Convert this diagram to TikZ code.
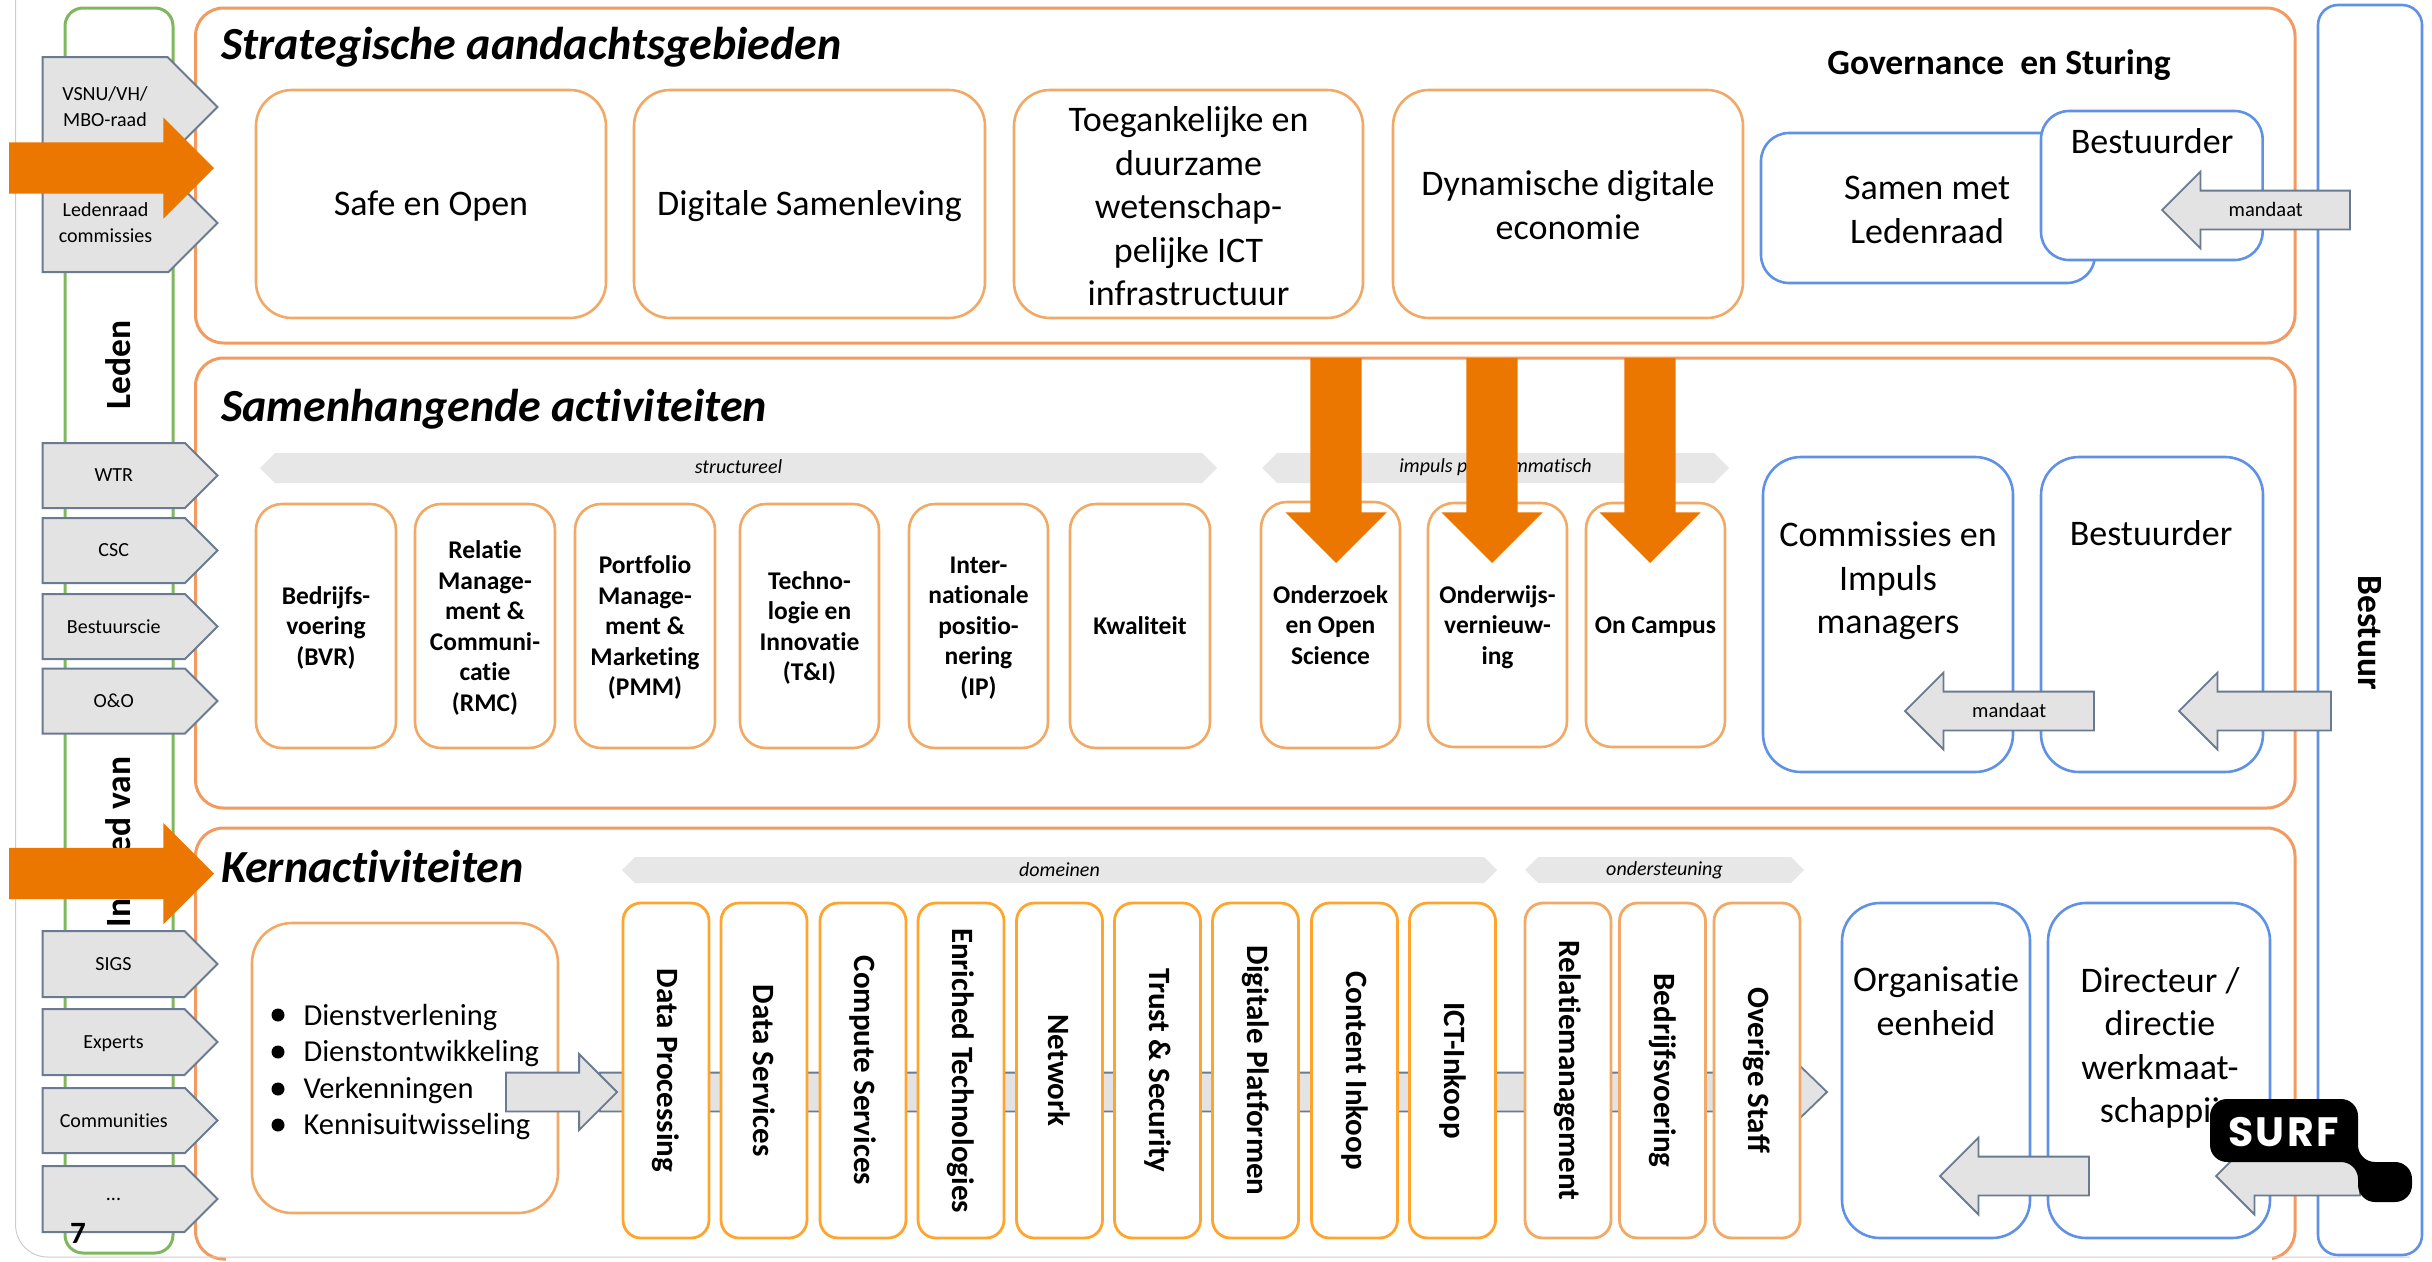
\documentclass[tikz,border=0pt]{standalone}
\usepackage{fontspec}
\setmainfont{Carlito}[Ligatures=NoCommon]
\newfontfamily\surffont{Poppins}[LetterSpace=6]
\usetikzlibrary{shapes.arrows,shapes.symbols}
\definecolor{panelorange}{HTML}{F39A60}
\definecolor{softorange}{HTML}{F2A966}
\definecolor{strongorange}{HTML}{FFA52E}
\definecolor{softblue}{HTML}{5F92E6}
\definecolor{softgreen}{HTML}{7FB75E}
\definecolor{arrowgray}{HTML}{E3E3E3}
\definecolor{bandgray}{HTML}{E7E7E7}
\definecolor{edgegray}{HTML}{6A7A90}
\definecolor{bigorange}{HTML}{EB7600}
\begin{document}
\begin{tikzpicture}[
				x=1pt,y=-1pt,
				every node/.style={inner sep=0pt, outer sep=0pt, align=center, text=black},
				panelbox/.style={draw=panelorange, line width=3pt, rounded corners=28pt, rectangle, anchor=north west},
				softbox/.style={draw=softorange, fill=white, line width=2.6pt, rounded corners=#1, rectangle, anchor=north west},
				softbox/.default=26pt,
				bluebox/.style={draw=softblue, fill=white, line width=2.6pt, rounded corners=#1, rectangle, anchor=north west},
				bluebox/.default=38pt,
				bandbox/.style={fill=bandgray, shape=signal, signal to=east and west, signal pointer angle=90, minimum height=#1},
				tagbox/.style={draw=edgegray, fill=arrowgray, line width=2pt, shape=signal, signal to=east, signal pointer angle=90, anchor=west, minimum width=175pt, text depth=0pt, font=\fontsize{20}{26}\selectfont},
				grayarrow/.style={draw=edgegray, fill=arrowgray, line width=1.8pt, shape=single arrow, inner sep=18.5pt, single arrow head extend=19pt, minimum width=75pt, anchor=tip},
				textarrow/.style={grayarrow, inner ysep=12.5pt, inner xsep=0pt, text height=12pt, text depth=0pt, font=\fontsize{20.5}{25}\selectfont},
				bigarrow/.style={fill=bigorange, shape=single arrow, inner sep=25.5pt, single arrow head extend=25pt, minimum width=100pt, minimum height=205pt, anchor=tip},
				titletext/.style={font=\fontsize{46}{54}\selectfont\bfseries\itshape, anchor=west},
				largetext/.style={font=\fontsize{36}{43.5}\selectfont},
				boldlabel/.style={text depth=0pt, font=\fontsize{25.5}{30.5}\selectfont\bfseries},
				bandtext/.style={font=\fontsize{20}{24}\selectfont\itshape},
				sidetext/.style={font=\fontsize{35.5}{42}\selectfont\bfseries},
				listdot/.style={fill=black, circle, minimum size=13pt},
				columnbox/.style={line width=2.8pt, fill=white, rounded corners=18pt, rectangle, rotate=-90, minimum width=335pt, minimum height=86pt, font=\fontsize{31}{36}\selectfont\bfseries}
				]
				
				\useasboundingbox (0,0) rectangle (2432,1261);
				\node[panelbox, minimum width=2099.5pt, minimum height=335pt] (strategic) at (195.5,8) {};
				\node[panelbox, minimum width=2099.5pt, minimum height=450pt] (samen) at (195.5,358) {};
				\node[panelbox, minimum width=2099.5pt, minimum height=431pt] (kern) at (195.5,828) {};
				\fill[white] (226,1256.5) rectangle (2272,1262);
				\draw[gray!40, line width=1pt, rounded corners=32pt] (15.6,-2) -- (15.6,1257) -- (2410,1257);
				\node[draw=softgreen, line width=3pt, rounded corners=18pt, rectangle, anchor=north west, minimum width=108pt, minimum height=1245pt] (ledenbox) at (65,8) {};
				\node[draw=softblue, line width=2.6pt, rounded corners=20pt, rectangle, anchor=north west, minimum width=104pt, minimum height=1250pt] (bestuurbox) at (2318,5) {};
				\node[sidetext, rotate=90] (leden) at (118,365) {Leden};
				\node[sidetext, rotate=90] (invloed) at (118,842) {Invloed van};
				\node[sidetext, rotate=-90] (bestuur) at (2370,632.5) {Bestuur};
				
				\node[titletext] (strategictitle) at (221,47) {Strategische aandachtsgebieden};
				\node[titletext] (samentitle) at (221,409) {Samenhangende activiteiten};
				\node[titletext] (kerntitle) at (221,867) {Kernactiviteiten};
				\node[font=\fontsize{35.5}{42}\selectfont\bfseries] (governance) at (1999,65) {Governance\ \ en Sturing};
				
				\node[softbox=36pt, minimum width=350pt, minimum height=228pt] (safe) at (256,90) {};
				\node[largetext] (safetext) at (431,206.5) {Safe en Open};
				\node[softbox=36pt, minimum width=351pt, minimum height=228pt] (digitaal) at (634,90) {};
				\node[largetext] (digitaaltext) at (809.5,206.5) {Digitale Samenleving};
				\node[softbox=36pt, minimum width=349pt, minimum height=228pt] (toegang) at (1014,90) {};
				\node[largetext] (toegangtext) at (1188.5,206.5) {Toegankelijke en\\duurzame\\wetenschap-\\pelijke ICT\\infrastructuur};
				\node[softbox=36pt, minimum width=350pt, minimum height=228pt] (economie) at (1393,90) {};
				\node[largetext] (economietext) at (1568,205) {Dynamische digitale\\economie};
				\node[bluebox=28pt, minimum width=334pt, minimum height=150pt] (samenmet) at (1761,133) {};
				\node[largetext] (samenmettext) at (1927,210) {Samen met\\Ledenraad};
				\node[bluebox=28pt, minimum width=221.6pt, minimum height=149pt] (bestuurder) at (2041,111) {};
				\node[largetext] (bestuurdertext) at (2152,141) {Bestuurder};
				
				\node[bandbox=30pt, minimum width=957pt] (structureel) at (738.5,468) {};
				\node[bandtext] (structureeltext) at (738.5,467) {structureel};
				\node[bandbox=30pt, minimum width=467pt] (impuls) at (1495.5,468) {};
				\node[bandtext] (impulstext) at (1495.5,467) {impuls programmatisch};
				
				\node[softbox, boldlabel, minimum width=140pt, minimum height=244pt] (bvr) at (256,504) {Bedrijfs-\\voering\\(BVR)};
				\node[softbox, boldlabel, minimum width=140pt, minimum height=244pt] (rmc) at (415,504) {Relatie\\Manage-\\ment \&\\Communi-\\catie\\(RMC)};
				\node[softbox, boldlabel, minimum width=140pt, minimum height=244pt] (pmm) at (575,504) {Portfolio\\Manage-\\ment \&\\Marketing\\(PMM)};
				\node[softbox, boldlabel, minimum width=139pt, minimum height=244pt] (ti) at (740,504) {Techno-\\logie en\\Innovatie\\(T\&I)};
				\node[softbox, boldlabel, minimum width=139pt, minimum height=244pt] (ip) at (909,504) {Inter-\\nationale\\positio-\\nering\\(IP)};
				\node[softbox, boldlabel, minimum width=140pt, minimum height=244pt] (kwaliteit) at (1070,504) {Kwaliteit};
				\node[softbox, boldlabel, minimum width=139pt, minimum height=246pt] (onderzoek) at (1261,502) {Onderzoek\\en Open\\Science};
				\node[softbox, boldlabel, minimum width=139pt, minimum height=244pt] (onderwijs) at (1428,503) {Onderwijs-\\vernieuw-\\ing};
				\node[softbox, boldlabel, minimum width=139pt, minimum height=244pt] (campus) at (1586,503) {On Campus};
				\node[bluebox, minimum width=250pt, minimum height=315pt] (commissies) at (1763,457) {};
				\node[largetext] (commissiestext) at (1888,581) {Commissies en\\Impuls\\managers};
				\node[bluebox, minimum width=222pt, minimum height=315pt] (bestuurdertwee) at (2041,457) {};
				\node[largetext] (bestuurdertweetext) at (2151,533) {Bestuurder};
				
				\node[bandbox=26pt, minimum width=875pt] (domeinen) at (1059.5,870) {};
				\node[bandtext] (domeinentext) at (1059.5,870) {domeinen};
				\node[bandbox=26pt, minimum width=279pt] (ondersteuning) at (1664.5,870) {};
				\node[bandtext] (ondersteuningtext) at (1664.5,870) {ondersteuning};
				
				\node[softbox=40pt, minimum width=306pt, minimum height=290pt] (dienst) at (252,923) {};
				\node[align=left, anchor=west, font=\fontsize{30.5}{36.5}\selectfont] (dienstlist) at (303.5,1072) {Dienstverlening\\Dienstontwikkeling\\Verkenningen\\Kennisuitwisseling};
				\node[listdot] (dotverlening) at (278,1015) {};
				\node[listdot] (dotontwikkeling) at (278,1052) {};
				\node[listdot] (dotverkenning) at (278,1089) {};
				\node[listdot] (dotkennis) at (278,1125) {};
				
				\node[grayarrow, single arrow head extend=7.5pt, minimum width=52pt, minimum height=1227pt, single arrow tip angle=88] (stroom) at (1827,1092) {};
				\node[grayarrow, single arrow head extend=18.5pt, minimum width=74pt, minimum height=111pt] (stroomstart) at (617,1092) {};
				
				\node[columnbox, draw=strongorange] (dp) at (666,1070.5) {Data Processing};
				\node[columnbox, draw=strongorange] (dservices) at (764,1070.5) {Data Services};
				\node[columnbox, draw=strongorange] (compute) at (863,1070.5) {Compute Services};
				\node[columnbox, draw=strongorange] (enriched) at (961,1070.5) {Enriched Technologies};
				\node[columnbox, draw=strongorange] (network) at (1059.5,1070.5) {Network};
				\node[columnbox, draw=strongorange] (trust) at (1157.5,1070.5) {Trust \& Security};
				\node[columnbox, draw=strongorange] (platform) at (1255.5,1070.5) {Digitale Platformen};
				\node[columnbox, draw=strongorange] (content) at (1354.5,1070.5) {Content Inkoop};
				\node[columnbox, draw=strongorange] (ict) at (1452.5,1070.5) {ICT-Inkoop};
				\node[columnbox, draw=softorange] (relatie) at (1568,1070.5) {Relatiemanagement};
				\node[columnbox, draw=softorange] (bedrijf) at (1662.5,1070.5) {Bedrijfsvoering};
				\node[columnbox, draw=softorange] (staff) at (1757,1070.5) {Overige Staff};
				
				\node[bluebox, minimum width=188pt, minimum height=335pt] (organisatie) at (1842,903) {};
				\node[largetext] (organisatietext) at (1936,1001) {Organisatie\\eenheid};
				\node[bluebox, minimum width=222pt, minimum height=335pt] (directeur) at (2048,903) {};
				\node[largetext] (directeurtext) at (2160,1048) {Directeur /\\directie\\werkmaat-\\schappij};
				
				\node[tagbox, minimum height=100pt] (vsnu) at (42.5,107) {VSNU/VH/\\MBO-raad};
				\node[tagbox, minimum height=98pt] (ledenraad) at (42.5,223) {Ledenraad\\commissies};
				\node[tagbox, minimum height=65pt] (wtr) at (42.5,475.5) {WTR};
				\node[tagbox, minimum height=65pt] (csc) at (42.5,550.5) {CSC};
				\node[tagbox, minimum height=65pt] (bestuurscie) at (42.5,626.5) {Bestuurscie};
				\node[tagbox, minimum height=65pt] (oo) at (42.5,701) {O\&O};
				\node[tagbox, minimum height=66pt] (sigs) at (42.5,964) {SIGS};
				\node[tagbox, minimum height=66pt] (experts) at (42.5,1042) {Experts};
				\node[tagbox, minimum height=65pt] (communities) at (42.5,1120.5) {Communities};
				\node[tagbox, minimum height=66pt] (overig) at (42.5,1199) {...};
				\node[font=\fontsize{31}{36}\selectfont\bfseries] (paginanummer) at (78,1233) {7};
				
				\node[textarrow, shape border rotate=180, minimum height=188pt] (mandaattop) at (2162,210) {mandaat};
				\node[textarrow, shape border rotate=180, minimum height=189pt] (mandaatmidden) at (1905,711) {mandaat};
				\node[grayarrow, shape border rotate=180, minimum height=152pt] (bestuurmidden) at (2179,711) {};
				\node[grayarrow, shape border rotate=180, minimum height=149pt] (directiepijl) at (1940,1176) {};
				\node[grayarrow, shape border rotate=180, minimum height=144pt] (bestuurpijl) at (2216,1176) {};
				
				\node[bigarrow] (impulslinks) at (214,168) {};
				\node[bigarrow] (impulskern) at (214,873.5) {};
				\node[bigarrow, shape border rotate=270] (impulsonderzoek) at (1336,563) {};
				\node[bigarrow, shape border rotate=270] (impulsonderwijs) at (1492,563) {};
				\node[bigarrow, shape border rotate=270] (impulscampus) at (1650,563) {};
				
				\fill[black, rounded corners=17pt] (2210,1099) -- (2358,1099) -- (2358,1162) -- (2412,1162) -- (2412,1202) -- (2358,1202) -- (2358,1162) -- (2210,1162) -- cycle;
				\node[text=white, font=\fontsize{41}{44}\selectfont\surffont\bfseries] (surf) at (2283.5,1132.5) {SURF};
			\end{tikzpicture}
\end{document}
